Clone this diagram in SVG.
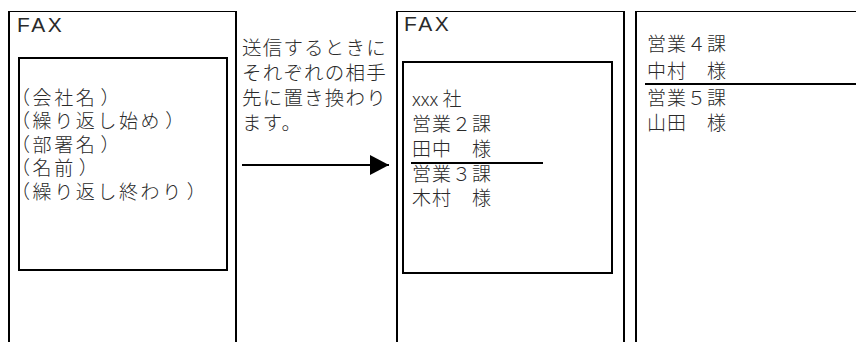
<svg xmlns="http://www.w3.org/2000/svg" width="856" height="342" viewBox="0 0 856 342">
<defs>
<style>
.frame{fill:none;stroke:#000;stroke-width:2}
.top{fill:none;stroke:#000;stroke-width:1}
.inner{fill:none;stroke:#000;stroke-width:2}
.sep{stroke:#000;stroke-width:2}
.t{font-family:"Noto Sans CJK JP","Noto Sans",sans-serif;font-size:19px;font-weight:300;letter-spacing:1px;fill:#2a2a2a}
.p{letter-spacing:2.6px}
.m{font-size:19.5px;letter-spacing:1.2px}
.fax{font-family:"Liberation Sans",Arial,sans-serif;font-size:21px;letter-spacing:2.5px;fill:#2a2a2a}
</style>
<marker id="arr" markerWidth="20" markerHeight="20" refX="19" refY="10" orient="auto" markerUnits="userSpaceOnUse">
<path d="M0,0 L19,10 L0,20 Z" fill="#000"/>
</marker>
</defs>
<rect width="856" height="342" fill="#fff"/>

<g id="fax-template">
<path class="top" d="M9,11.5 H236"/>
<path class="frame" d="M9,11 V342 M236,11 V342"/>
<text class="fax" x="17" y="32">FAX</text>
<rect class="inner" x="19" y="58" width="208" height="212"/>
<text class="t p" x="11" y="104.5">（会社名<tspan dx="3">）</tspan></text>
<text class="t p" x="11" y="128">（繰り返し始め<tspan dx="3">）</tspan></text>
<text class="t p" x="11" y="151.5">（部署名<tspan dx="3">）</tspan></text>
<text class="t p" x="11" y="175">（名前<tspan dx="3">）</tspan></text>
<text class="t p" x="11" y="198.5">（繰り返し終わり<tspan dx="3">）</tspan></text>
</g>

<g id="note">
<text class="t m" x="242" y="54.5">送信するときに</text>
<text class="t m" x="242" y="79.5">それぞれの相手</text>
<text class="t m" x="242" y="104.5">先に置き換わり</text>
<text class="t m" x="242" y="129.5">ます。</text>
</g>

<g id="fax-result-1">
<path class="top" d="M397,11.5 H624"/>
<path class="frame" d="M397,11 V342 M624,11 V342"/>
<text class="fax" x="404" y="31">FAX</text>
<rect class="inner" x="403" y="62" width="209" height="211"/>
<text class="t" x="412" y="105.5" style="letter-spacing:0">xxx 社</text>
<text class="t" x="412" y="130.5">営業２課</text>
<text class="t" x="412" y="155.5">田中　様</text>
<line class="sep" x1="411" y1="163" x2="543" y2="163"/>
<text class="t" x="412" y="181">営業３課</text>
<text class="t" x="412" y="205">木村　様</text>
</g>

<g id="fax-result-2">
<path class="top" d="M636,11.5 H856"/>
<path class="frame" d="M636,11 V342"/>
<text class="t" x="647" y="51">営業４課</text>
<text class="t" x="647" y="78">中村　様</text>
<line class="sep" x1="645" y1="84" x2="856" y2="84"/>
<text class="t" x="647" y="105">営業５課</text>
<text class="t" x="647" y="130">山田　様</text>
</g>

<g id="connectors">
<line x1="242" y1="165" x2="389" y2="165" stroke="#000" stroke-width="2" marker-end="url(#arr)"/>
</g>
</svg>
